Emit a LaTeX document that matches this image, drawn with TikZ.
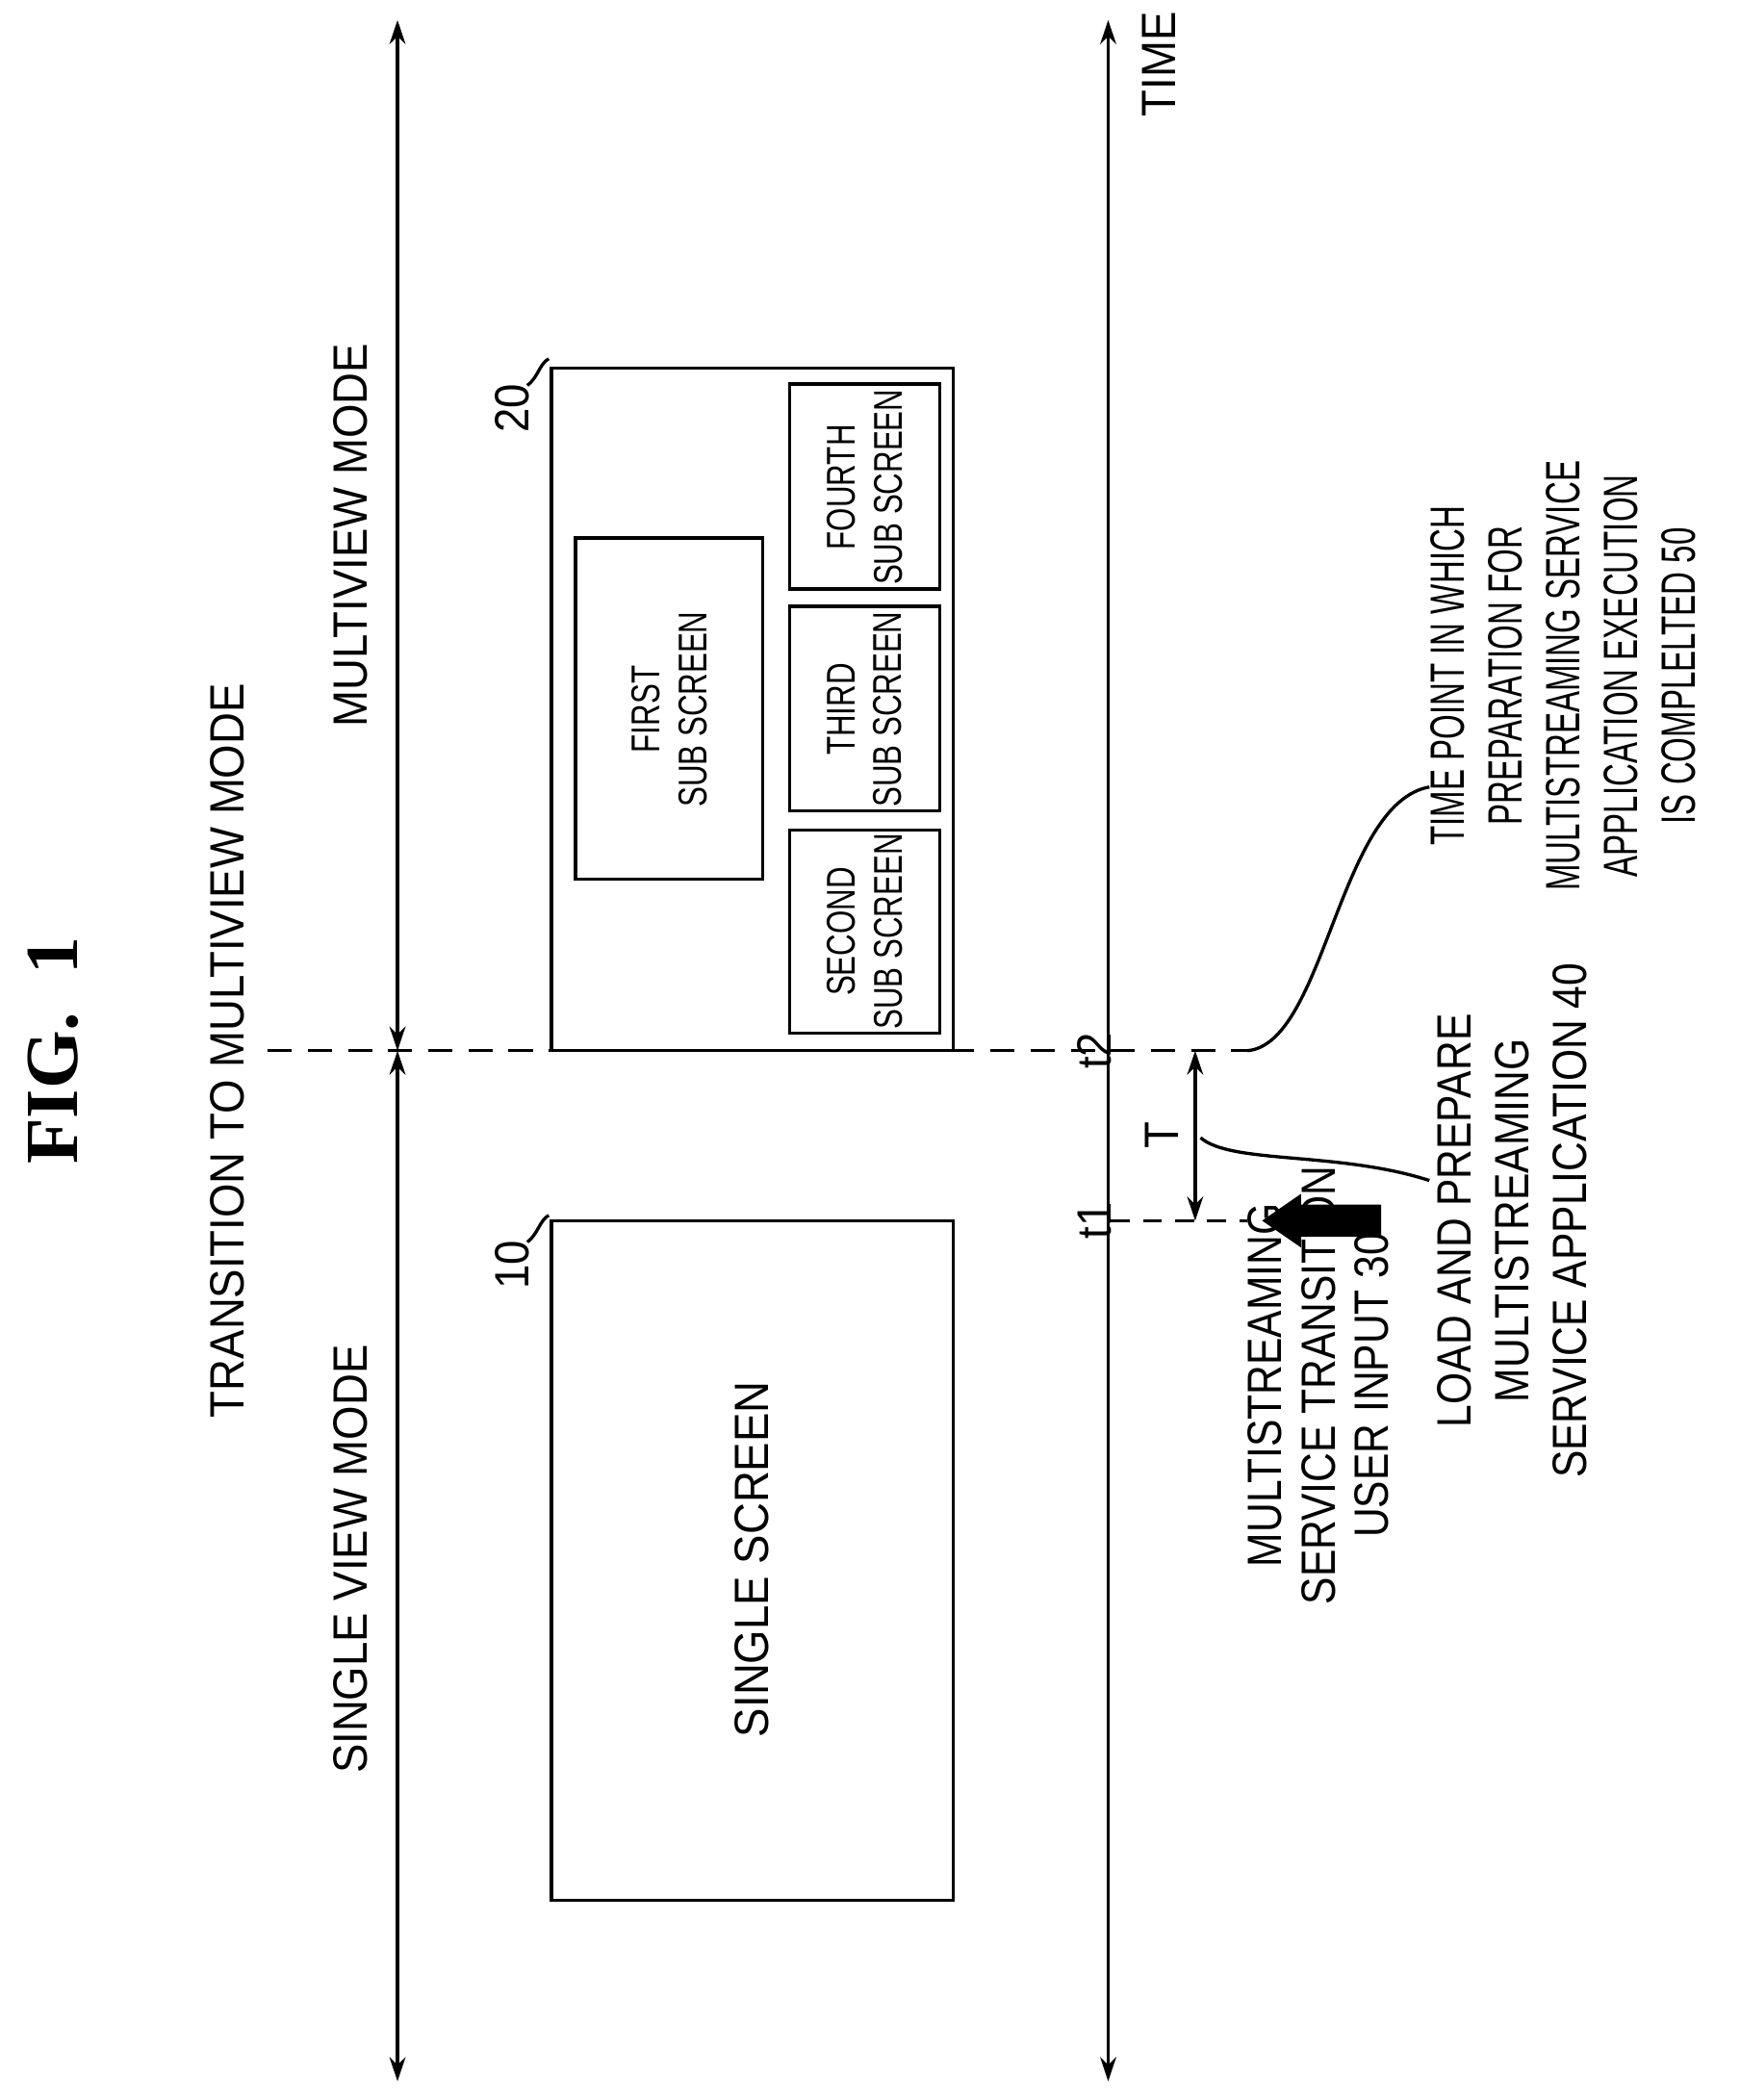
\documentclass[tikz,border=0pt]{standalone}
\usepackage{fontspec}
\setmainfont{Liberation Sans}
\newfontfamily\hdr[FakeStretch=0.91]{Liberation Sans}
\newfontfamily\lab[FakeStretch=0.85]{Liberation Sans}
\newfontfamily\cnd[FakeStretch=0.66]{Liberation Sans}
\newfontfamily\sub[FakeStretch=0.75]{Liberation Sans}
\newfontfamily\figf{Liberation Serif}
\usetikzlibrary{arrows.meta}
\begin{document}
\begin{tikzpicture}[x=0.5pt,y=-0.5pt,
  ln/.style={line width=1.2pt},
  dbl/.style={ln,{Stealth[length=9pt,width=6pt]}-{Stealth[length=9pt,width=6pt]}},
  box/.style={ln,draw},
  lbl/.style={rotate=90,align=center,font=\hdr\fontsize{18}{22}\selectfont},
  lab/.style={rotate=90,align=center,font=\lab\fontsize{18}{21.5}\selectfont},
  cnd/.style={rotate=90,align=center,font=\cnd\fontsize{18}{21.5}\selectfont},
  sml/.style={rotate=90,align=center,font=\sub\fontsize{15}{17.5}\selectfont}]
\useasboundingbox (0,0) rectangle (1300,1569);
% axes
\coordinate (La) at (297,15); \coordinate (Lm) at (297,785); \coordinate (Lb) at (297,1555);
\coordinate (Ra) at (828,15); \coordinate (Rb) at (828,1555);
\draw[dbl] (La) -- (Lm);
\draw[dbl] (Lm) -- (Lb);
\draw[dbl] (Ra) -- (Rb);
\coordinate (D1) at (200,785); \coordinate (D2) at (932,785);
\coordinate (E1) at (830,912); \coordinate (E2) at (932,912);
\draw[ln,dash pattern=on 9pt off 6pt] (D1) -- (D2);
\draw[ln,dash pattern=on 7pt off 5pt] (E1) -- (E2);
\coordinate (Ta) at (893,785); \coordinate (Tb) at (893,912);
\draw[dbl] (Ta) -- (Tb);
% texts
\node[rotate=90,font=\figf\bfseries\fontsize{28}{30}\selectfont] (fig) at (40,785) {FIG.\ \ 1};
\node[lbl] (tr) at (170,785) {TRANSITION TO MULTIVIEW MODE};
\node[lbl] (sv) at (262,1165) {SINGLE VIEW MODE};
\node[lbl] (mv) at (262,400) {MULTIVIEW MODE};
\node[lbl] (time) at (866,48) {TIME};
\node[lbl] (t1) at (818,912) {t1};
\node[lbl] (t2) at (818,785) {t2};
\node[lbl] (T) at (868,848) {T};
% boxes
\draw[box] (412,912) rectangle (712,1420);
\node[lbl] (ss) at (562,1165) {SINGLE SCREEN};
\draw[box] (412,275) rectangle (712,785);
\draw[box] (430,402) rectangle (570,657);
\node[sml] (s1) at (500,530) {FIRST\\SUB SCREEN};
\draw[box] (590,620) rectangle (702,772);
\node[sml] (s2) at (646,696) {SECOND\\SUB SCREEN};
\draw[box] (590,453) rectangle (702,606);
\node[sml] (s3) at (646,530) {THIRD\\SUB SCREEN};
\draw[box] (590,287) rectangle (702,440);
\node[sml] (s4) at (646,364) {FOURTH\\SUB SCREEN};
% reference numerals
\node[lbl] (n10) at (383,945) {10};
\node[lbl] (n20) at (383,305) {20};
\draw[ln] (410,908) .. controls (403,912) and (402,922) .. (394,928);
\draw[ln] (410,268) .. controls (403,272) and (402,282) .. (394,288);
% big arrow
\fill (1032,900) -- (972,900) -- (972,892) -- (943,912) -- (972,932) -- (972,924) -- (1032,924) -- cycle;
\node[lab,font=\lab\fontsize{18}{20}\selectfont] (u30) at (985,1035) {MULTISTREAMING\\SERVICE TRANSITION\\USER INPUT 30};
\node[lab] (l40) at (1130,912) {LOAD AND PREPARE\\MULTISTREAMING\\SERVICE APPLICATION 40};
\node[cnd] (p50) at (1168,505) {TIME POINT IN WHICH\\PREPARATION FOR\\MULTISTREAMING SERVICE\\APPLICATION EXECUTION\\IS COMPLELTED 50};
\draw[ln] (897,850) .. controls (920,870) and (1000,860) .. (1068,882);
\draw[ln] (932,785) .. controls (990,780) and (1000,600) .. (1068,588);
\end{tikzpicture}
\end{document}
